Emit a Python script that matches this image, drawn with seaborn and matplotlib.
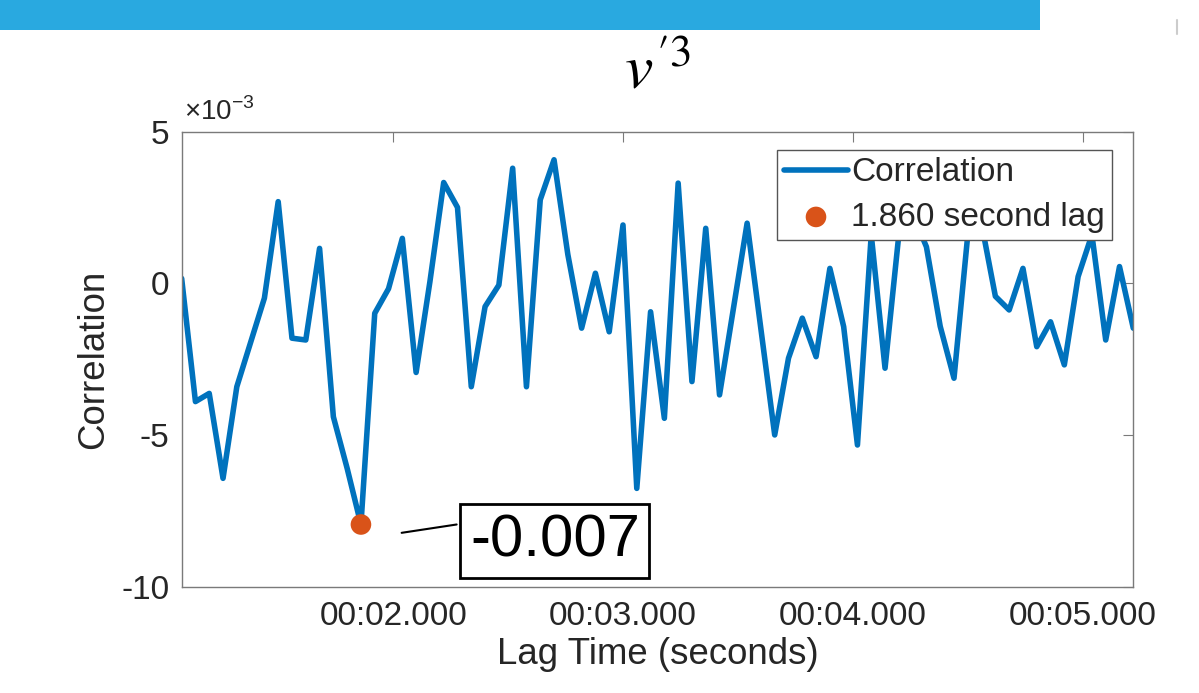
import numpy as np
import matplotlib
matplotlib.use('Agg')
import matplotlib.pyplot as plt
import seaborn as sns
from matplotlib.text import OffsetFrom
from matplotlib.patches import Rectangle
from matplotlib.lines import Line2D
from matplotlib.ticker import FuncFormatter

# Cross-correlation values (x 10^-3)
corr_e3 = [
    0.16, -3.90, -3.63, -6.43, -3.41, -1.95, -0.49, 2.69, -1.81, -1.87,
    1.15, -4.40, -6.10, -7.95, -0.99, -0.18, 1.48, -2.94, 0.05, 3.32,
    2.50, -3.41, -0.77, -0.06, 3.79, -3.41, 2.75, 4.07, 0.95, -1.48,
    0.33, -1.60, 1.92, -6.76, -0.94, -4.45, 3.30, -3.24, 1.81, -3.68,
    -0.85, 1.98, -1.51, -5.00, -2.47, -1.15, -2.42, 0.49, -1.43, -5.33,
    1.60, -2.80, 1.60, 2.30, 1.20, -1.42, -3.13, 1.60, 1.95, -0.43,
    -0.88, 0.49, -2.09, -1.27, -2.69, 0.22, 1.60, -1.87, 0.55, -1.48,
]
# lag grid (seconds)
lag_start = 1.08
lag_step = 0.06
y_ticks_e3 = [-10, -5, 0, 5]
x_ticks = [2, 3, 4, 5]
min_label = '-0.007'
title = r"$v^{\prime 3}$"
y_exponent = -3

corr = np.array(corr_e3) * 10.0 ** y_exponent
lags = lag_start + lag_step * np.arange(len(corr))
i_min = int(np.argmin(corr))

blue = '#0072BD'
orange = '#D95319'
grey = '#7a7a7a'
dark = '#262626'

sns.set_theme(style='white')
plt.rcParams['font.family'] = ['Liberation Sans', 'DejaVu Sans']
plt.rcParams['axes.unicode_minus'] = False
plt.rcParams['mathtext.fontset'] = 'custom'
plt.rcParams['mathtext.rm'] = 'Liberation Sans'

fig = plt.figure(figsize=(11.99, 6.93), dpi=100)
fig.patch.set_facecolor('white')
ax = fig.add_axes([0.1515, 0.1534, 0.7937, 0.6568])

sns.lineplot(x=lags, y=corr, ax=ax, color=blue, linewidth=4.0,
             label='Correlation', legend=False)
sns.scatterplot(x=[lags[i_min]], y=[corr[i_min]], ax=ax, color=orange, s=220,
                edgecolor='none', zorder=4,
                label=f'{lags[i_min]:.3f} second lag', legend=False)

ax.set_xlim(lags[0], lags[-1])
ax.set_ylim(y_ticks_e3[0] * 10.0 ** y_exponent, y_ticks_e3[-1] * 10.0 ** y_exponent)
ax.set_yticks(np.array(y_ticks_e3) * 10.0 ** y_exponent)
ax.set_xticks(x_ticks)


def fmt_time(t, pos):
    m = int(t // 60)
    s = t - 60 * m
    return f'{m:02d}:{s:06.3f}'


ax.xaxis.set_major_formatter(FuncFormatter(fmt_time))
ax.yaxis.set_major_formatter(FuncFormatter(lambda v, pos: f'{round(v / 10.0 ** y_exponent):d}'))

for sp in ax.spines.values():
    sp.set_color(grey)
    sp.set_linewidth(1.0)
ax.tick_params(direction='in', length=7, width=0.8, color=grey,
               top=True, right=True, labelsize=24, labelcolor=dark)
ax.tick_params(axis='x', pad=10)
ax.tick_params(axis='y', pad=9)

# exponent label above the y axis
ax.text(0.002, 1.012, r'$\times10^{' + str(y_exponent) + '}$', transform=ax.transAxes,
        fontsize=20, color=dark, ha='left', va='bottom')

ax.set_xlabel('Lag Time (seconds)', fontsize=26.4, color=dark, labelpad=4)
ax.set_ylabel('Correlation', fontsize=26.4, color=dark, labelpad=7)

leg = ax.legend(loc='upper left', bbox_to_anchor=(0.6256, 0.9594),
                borderaxespad=0, fontsize=24, frameon=True, fancybox=False,
                framealpha=1, edgecolor='#555555', handlelength=1.9,
                handletextpad=0.1, borderpad=0.22, labelspacing=0.4,
                scatterpoints=1)
leg.get_frame().set_linewidth(1.0)
for t in leg.get_texts():
    t.set_color(dark)

# data tip box with connector
dot_ref = OffsetFrom(ax.transData, (lags[i_min], corr[i_min]), unit='points')
ax.annotate('', xy=(29.3, -6.0), xycoords=dot_ref,
            xytext=(68.9, 0.0), textcoords=dot_ref,
            arrowprops=dict(arrowstyle='-', color='black', lw=1.5,
                            shrinkA=0, shrinkB=0))
ax.annotate(min_label, xy=(139.7, -12.2), xycoords=dot_ref,
            ha='center', va='center', fontsize=43, color='black',
            bbox=dict(boxstyle='square,pad=0.16', fc='white', ec='black', lw=2))

fig.text(0.548, 0.872, title, fontsize=46, math_fontfamily='stix',
         ha='center', va='baseline', color='black')

# slide header strip
fig.add_artist(Rectangle((0, 1 - 30 / 693), 1040 / 1199, 30 / 693,
                         transform=fig.transFigure, color='#29A9E0', lw=0))
fig.add_artist(Line2D([1177 / 1199] * 2, [1 - 20 / 693, 1 - 34 / 693],
                      transform=fig.transFigure, color='#cccccc', lw=1.5))

fig.savefig('out.png', dpi=100, facecolor='white')
